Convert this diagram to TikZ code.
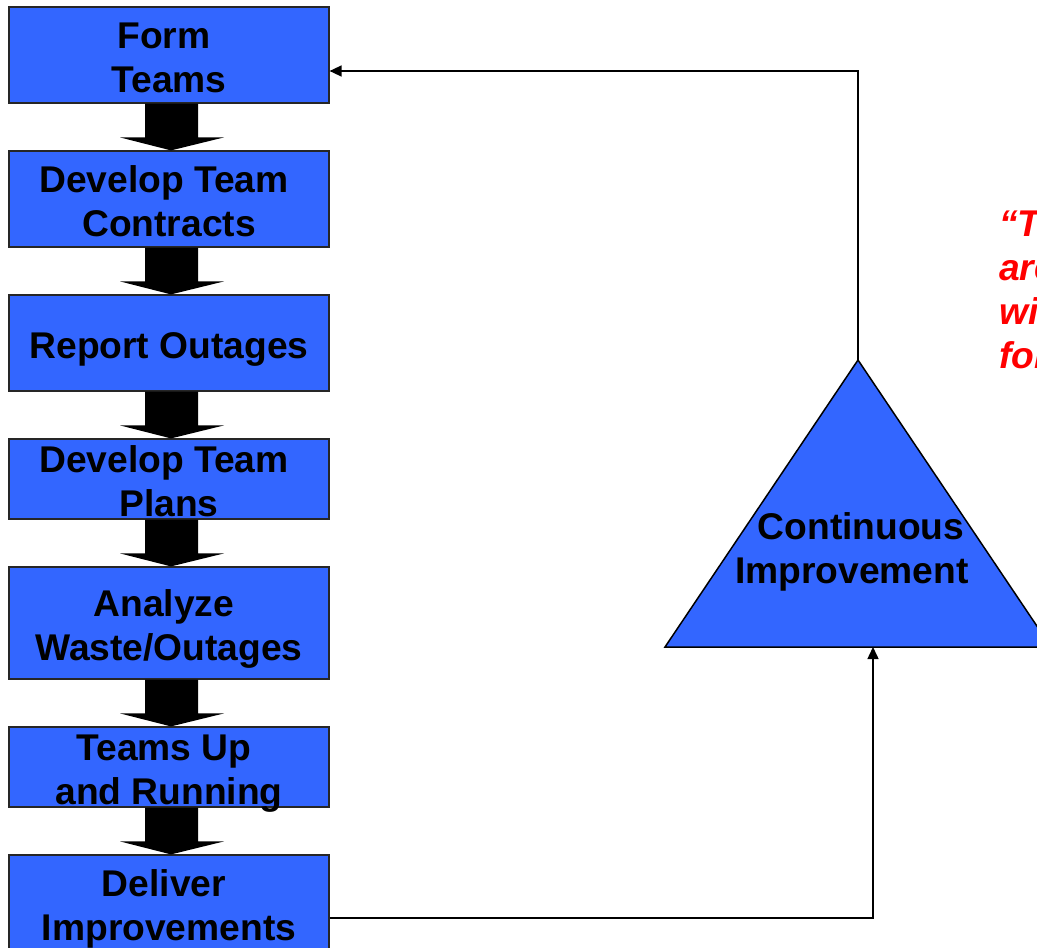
\documentclass[tikz,border=0pt]{standalone}
\usepackage{fontspec}
\setmainfont{Liberation Sans}
\usetikzlibrary{arrows.meta,calc}
\definecolor{boxblue}{RGB}{51,102,255}
\definecolor{quotered}{RGB}{255,0,0}
\newcommand\blockarrow[2]{%
  \fill ($(#1.south)+(-24,0)$) -- ($(#1.south)+(29,0)$) -- ($(#2.north)+(29,-13)$)
    -- ($(#2.north)+(55,-13)$) -- ($(#2.north)+(2,0)$) -- ($(#2.north)+(-49,-13)$)
    -- ($(#2.north)+(-24,-13)$) -- cycle;}
\newcommand\trailgap{\hspace*{10pt}}
\newcommand\topstrut{\rule{0pt}{38pt}}
\begin{document}
\begin{tikzpicture}[x=1pt,y=-1pt,
  bigtext/.style={font=\fontsize{37.2}{44}\selectfont\bfseries,
    execute at end node=\rule[-8pt]{0pt}{8pt}},
  quotetext/.style={font=\fontsize{37.2}{44}\selectfont\bfseries\itshape,text=quotered},
  stepbox/.style={bigtext,draw=black!85,line width=1.2pt,fill=boxblue,minimum width=320pt,inner xsep=0pt,inner ysep=-8pt,align=center},
  link/.style={draw=black,line width=1.5pt,-{Triangle[length=12pt,width=11pt]}}]
\useasboundingbox (0,0) rectangle (1037,948);
\node[stepbox,minimum height=96pt]  (b1) at (169,55)  {\topstrut Form\trailgap\\Teams};
\node[stepbox,minimum height=96pt]  (b2) at (169,199) {\topstrut Develop Team\trailgap\\Contracts};
\node[stepbox,minimum height=96pt]  (b3) at (169,343) {\topstrut Report Outages};
\node[stepbox,minimum height=80pt]  (b4) at (169,479) {\topstrut Develop Team\trailgap\\Plans};
\node[stepbox,minimum height=112pt] (b5) at (169,623) {\topstrut Analyze\trailgap\\Waste/Outages};
\node[stepbox,minimum height=80pt]  (b6) at (169,767) {\topstrut Teams Up\trailgap\\and Running};
\node[stepbox,minimum height=96pt]  (b7) at (169,903) {\topstrut Deliver\trailgap\\Improvements};
\blockarrow{b1}{b2}
\blockarrow{b2}{b3}
\blockarrow{b3}{b4}
\blockarrow{b4}{b5}
\blockarrow{b5}{b6}
\blockarrow{b6}{b7}
\coordinate (apex) at (858,360);
\coordinate (tin) at (873,647);
\filldraw[fill=boxblue,draw=black,line width=1.5pt] (apex) -- (1051,647) -- (665,647) -- cycle;
\node[bigtext,align=center,inner sep=0pt] (ci) at (852,546) {\topstrut\hspace*{18pt}Continuous\\Improvement};
\draw[link] (apex) |- ([yshift=-16pt]b1.east);
\draw[link] ([yshift=-15pt]b7.east) -| (tin);
\node[quotetext,anchor=north west,inner sep=0pt,align=left] (quote) at (999,211) {“T\\are\\wi\\for};
\end{tikzpicture}
\end{document}
